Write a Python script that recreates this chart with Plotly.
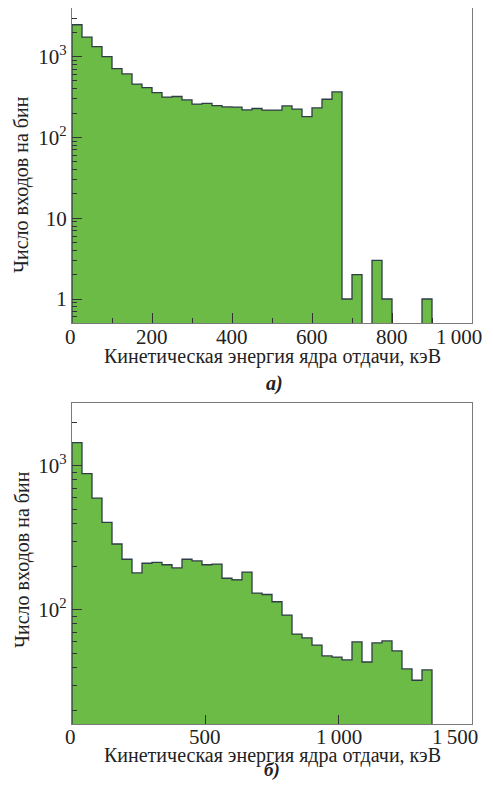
import numpy as np
import plotly.graph_objects as go

# panel a): 25 keV bins from 0 keV
bin_width_a = 25
counts_a = [2480, 1740, 1330, 1000, 711, 611, 456, 414, 359, 316,
            321, 292, 258, 264, 248, 239, 237, 219, 228, 218,
            218, 246, 224, 181, 232, 297, 366, 1, 2, 0,
            3, 1, 0, 0, 0, 1, 0, 0, 0, 0]

# panel б): 37.5 keV bins from 0 keV
bin_width_b = 37.5
counts_b = [1452, 884, 597, 406, 287, 225, 181, 211, 214, 206,
            196, 225, 219, 206, 208, 166, 162, 183, 131, 128,
            114, 92, 68, 64, 57, 48, 47, 45, 60, 43.5,
            59, 61, 52, 39, 32.5, 38.3]

xticks_a = [0, 200, 400, 600, 800, 1000]
xticklabels_a = ["0", "200", "400", "600", "800", "1\u2009000"]
xticks_b = [0, 500, 1000, 1500]
xticklabels_b = ["0", "500", "1\u2009000", "1\u2009500"]
yticks_a = [1, 10, 100, 1000]
yticklabels_a = ["1", "10", "10<sup>2</sup>", "10<sup>3</sup>"]
yticks_b = [100, 1000]
yticklabels_b = ["10<sup>2</sup>", "10<sup>3</sup>"]

x_title = "Кинетическая энергия ядра отдачи, кэВ"
y_title = "Число входов на бин"

GREEN = "#6cbb46"
EDGE = "#2e3d48"
FRAME = "#7a7a7a"
FONT = "Liberation Serif, DejaVu Serif, serif"

# the page body keeps an 8px margin: size the figure so the page needs no scrollbars
OFF = 8
W, H = 493 - 2 * OFF, 790 - 2 * OFF


def px(x):
    return (x - OFF) / W


def py(y):
    return 1 - (y - OFF) / H


def step_outline(counts, width, floor):
    edges = np.arange(len(counts) + 1) * width
    xs, ys = [edges[0]], [floor]
    for i, c in enumerate(counts):
        v = c if c > 0 else floor
        xs += [edges[i], edges[i + 1]]
        ys += [v, v]
    xs.append(edges[-1])
    ys.append(floor)
    return xs, ys


def log_minors(lo, hi):
    out = []
    for d in range(lo, hi):
        for m in range(2, 10):
            out.append(m * 10 ** d)
    return out


yrange_a = [-0.297, 3.602]
yrange_b = [1.208, 3.435]

fig = go.Figure()
panels = [
    (counts_a, bin_width_a, "x", "y", yrange_a),
    (counts_b, bin_width_b, "x2", "y2", yrange_b),
]
for counts, bw, xa, ya, yr in panels:
    centers = (np.arange(len(counts)) + 0.5) * bw
    vals = [c if c > 0 else None for c in counts]
    fig.add_trace(go.Bar(x=centers, y=vals, width=bw, marker=dict(color=GREEN, line=dict(width=0)),
                         xaxis=xa, yaxis=ya, showlegend=False, hoverinfo="skip"))
    sx, sy = step_outline(counts, bw, 10 ** (yr[0] - 1))
    fig.add_trace(go.Scatter(x=sx, y=sy, mode="lines", line=dict(color=EDGE, width=1.3),
                             xaxis=xa, yaxis=ya, showlegend=False, hoverinfo="skip"))

xdom = [px(72), px(472)]
axis_common = dict(showline=True, linecolor=FRAME, linewidth=1.2, mirror=True, showgrid=False,
                   zeroline=False, ticks="inside", tickcolor="#333", tickwidth=1,
                   tickfont=dict(family=FONT, size=21, color="#222"))

fig.update_layout(
    width=W, height=H,
    margin=dict(l=0, r=0, t=0, b=0),
    paper_bgcolor="white", plot_bgcolor="white",
    bargap=0,
    font=dict(family=FONT, color="#222"),
    # x tick labels are written as annotations below, so the last one can sit inside the page
    xaxis=dict(domain=xdom, anchor="y", range=[0, 1000], tickvals=xticks_a, showticklabels=False,
               ticklen=10, minor=dict(tickvals=[100, 300, 500, 700, 900], ticks="inside", ticklen=5,
                                      tickcolor="#333"), **axis_common),
    yaxis=dict(domain=[py(323), 1], anchor="x", type="log", range=yrange_a,
               tickvals=yticks_a, ticktext=yticklabels_a, ticklen=10,
               minor=dict(tickvals=log_minors(-1, 4), ticks="inside", ticklen=5, tickcolor="#333"),
               **axis_common),
    xaxis2=dict(domain=xdom, anchor="y2", range=[0, 1500], tickvals=xticks_b, showticklabels=False,
                ticklen=9, **axis_common),
    yaxis2=dict(domain=[py(724), py(403.3)], anchor="x2", type="log", range=yrange_b,
                tickvals=yticks_b, ticktext=yticklabels_b, ticklen=10,
                minor=dict(tickvals=log_minors(1, 4), ticks="inside", ticklen=5, tickcolor="#333"),
                **axis_common),
)

# x tick labels; the last one of each axis is pulled left, as in the original
for xref, vals, labels, ylab, last_shift in [("x", xticks_a, xticklabels_a, 336.5, -13),
                                             ("x2", xticks_b, xticklabels_b, 736.5, -17)]:
    for i, (v, t) in enumerate(zip(vals, labels)):
        shift = last_shift if i == len(vals) - 1 else (-2 if v == 0 else 0)
        fig.add_annotation(x=v, y=py(ylab), xref=xref, yref="paper", text=t, showarrow=False,
                           xanchor="center", yanchor="middle", xshift=shift,
                           font=dict(family=FONT, color="#222", size=21))

notes = [
    (272, 356, x_title, 0, 20),
    (274, 383, "<b><i>а)</i></b>", 0, 20),
    (272, 755, x_title, 0, 20),
    (272, 770, "<b><i>б)</i></b>", 0, 19),
    (22, 185, y_title, -90, 20),
    (22, 560, y_title, -90, 20),
]
for x, y, t, ang, size in notes:
    fig.add_annotation(x=px(x), y=py(y), xref="paper", yref="paper", text=t, showarrow=False,
                       textangle=ang, xanchor="center", yanchor="middle",
                       font=dict(family=FONT, color="#222", size=size))

fig.write_html("out.html")
